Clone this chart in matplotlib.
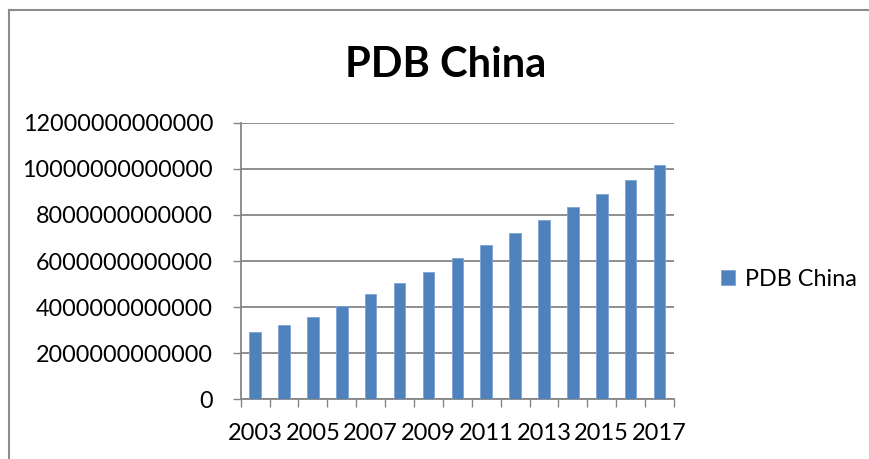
import numpy as np
import matplotlib
matplotlib.use("Agg")
import matplotlib.pyplot as plt
from matplotlib.ticker import FuncFormatter, FixedLocator
from matplotlib.lines import Line2D

plt.rcParams['font.family'] = ['Lato', 'DejaVu Sans']

# PDB China, 2003-2017
years = list(range(2003, 2018))
pdb = [2.91e12, 3.21e12, 3.56e12, 4.04e12, 4.59e12, 5.04e12, 5.51e12, 6.11e12,
       6.69e12, 7.22e12, 7.77e12, 8.34e12, 8.91e12, 9.51e12, 10.17e12]
y_ticks = [0, 2e12, 4e12, 6e12, 8e12, 10e12, 12e12]

W, H = 869, 459
fig = plt.figure(figsize=(W / 100, H / 100), dpi=100)
ax = fig.add_axes([240.7 / W, 1 - 399.3 / H, (674 - 240.7) / W, (399.3 - 122.7) / H])

grey = '#868686'
x = np.arange(len(years))
ax.bar(x, pdb, width=0.4, color='#4F81BD', edgecolor='#7FA3D3', linewidth=0.6,
       zorder=3, label='PDB China')

ax.set_xlim(-0.5, len(years) - 0.5)
ax.set_ylim(0, 12e12)

# y axis
ax.yaxis.set_major_locator(FixedLocator(y_ticks))
ax.yaxis.set_major_formatter(FuncFormatter(lambda v, p: '%d' % v))
ax.grid(axis='y', color=grey, linewidth=1.3, zorder=0)
ax.tick_params(axis='y', length=5.8, width=1, color=grey, pad=14, labelsize=16.8)

# x axis: ticks between categories, every other year labelled
ax.xaxis.set_major_locator(FixedLocator(np.arange(-0.5, len(years), 1.0)))
ax.xaxis.set_major_formatter(FuncFormatter(lambda v, p: ''))
ax.xaxis.set_minor_locator(FixedLocator(x[::2]))
ax.set_xticklabels([str(y) for y in years[::2]], minor=True)
ax.tick_params(axis='x', which='major', length=5.8, width=1, color=grey)
ax.tick_params(axis='x', which='minor', length=0, pad=17, labelsize=17)

for s in ['top', 'right']:
    ax.spines[s].set_visible(False)
for s in ['left', 'bottom']:
    ax.spines[s].set_color(grey)
    ax.spines[s].set_linewidth(1.3)

fig.text(446 / W, 1 - 77 / H, 'PDB China', ha='center', va='baseline',
         fontsize=30, fontweight='bold')

fig.legend(loc='center left', bbox_to_anchor=(721 / W, 1 - 279 / H), frameon=False,
           borderpad=0, borderaxespad=0, handlelength=0.62, handleheight=0.62,
           handletextpad=0.4, fontsize=16.8)

# chart area border (top and left edges only are in frame)
bx, by = 8.5 / W, 1 - 10 / H
fig.add_artist(Line2D([bx, 1], [by, by], transform=fig.transFigure, color='#8c8c8c', linewidth=1.5))
fig.add_artist(Line2D([bx, bx], [0, by], transform=fig.transFigure, color='#8c8c8c', linewidth=1.5))

fig.savefig('out.png', dpi=100)
